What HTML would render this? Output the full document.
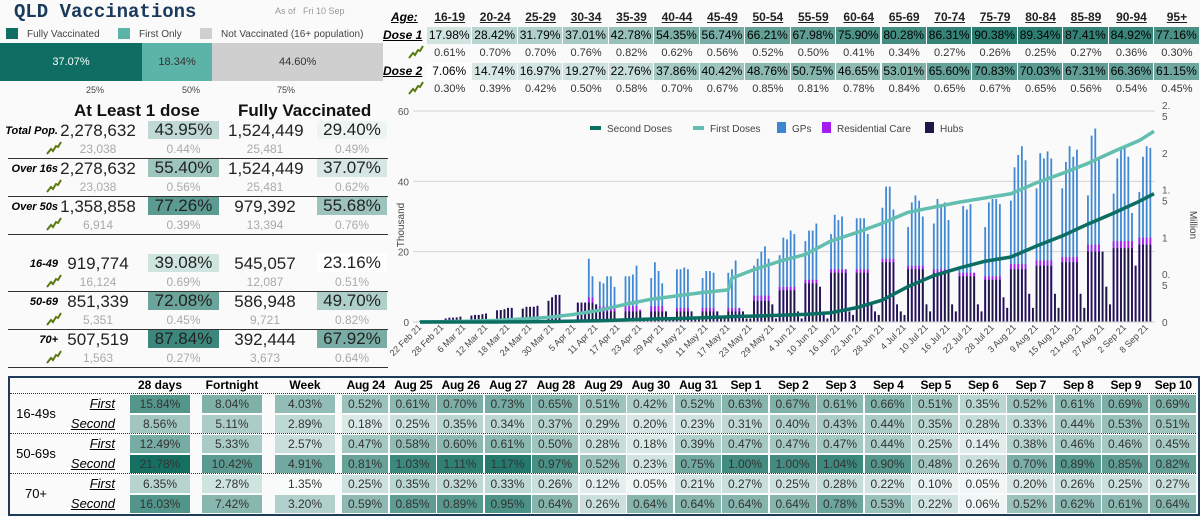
<!DOCTYPE html>
<html><head><meta charset="utf-8"><style>
body{margin:0;width:1200px;height:515px;background:#fafafa;font-family:"Liberation Sans",sans-serif;overflow:hidden;position:relative}
.a{position:absolute;white-space:nowrap}
.c{position:absolute;text-align:center;white-space:nowrap}
.lbl{font-style:italic;font-weight:bold;text-align:right}
.sub{color:#aaa;font-size:12px}
.big{font-size:17px;color:#222}
.u{text-decoration:underline}
</style></head><body>
<div class="a" style="left:14px;top:1px;font:bold 19px 'Liberation Mono',monospace;color:#1a3a5c">QLD Vaccinations</div>
<div class="a" style="left:275px;top:6px;font-size:9px;color:#999">As of &nbsp; Fri 10 Sep</div>
<div class="a" style="left:6px;top:28px;font-size:10px;color:#444"><span style="display:inline-block;width:12px;height:11px;background:#0f6e63;vertical-align:-2px;margin-right:9px"></span>Fully Vaccinated</div>
<div class="a" style="left:118px;top:28px;font-size:10px;color:#444"><span style="display:inline-block;width:12px;height:11px;background:#5cb3a8;vertical-align:-2px;margin-right:9px"></span>First Only</div>
<div class="a" style="left:200px;top:28px;font-size:10px;color:#444"><span style="display:inline-block;width:12px;height:11px;background:#cfcfcf;vertical-align:-2px;margin-right:9px"></span>Not Vaccinated (16+ population)</div>
<div id="stack" class="a" style="left:0;top:43px;width:383px;height:38px"></div>
<div class="a" style="left:86px;top:85px;font-size:9px;color:#444">25%</div>
<div class="a" style="left:182px;top:85px;font-size:9px;color:#444">50%</div>
<div class="a" style="left:277px;top:85px;font-size:9px;color:#444">75%</div>
<div class="a" style="left:74px;top:101px;font-size:17px;font-weight:bold;color:#111">At Least 1 dose</div>
<div class="a" style="left:238px;top:101px;font-size:17px;font-weight:bold;color:#111">Fully Vaccinated</div>
<div id="left"></div>
<div id="ages"></div>
<svg id="chart" class="a" style="left:390px;top:100px" width="810" height="275"></svg>
<div class="a" style="left:8px;top:376px;width:1188px;height:136px;border:2px solid #1f3b5a"></div>
<div id="bottom"></div>
<script>
const stackVals=[37.07,18.34,44.60];
const stackCols=['#0f6e63','#5cb3a8','#cfcfcf'];
const stackNames=['fully-segment','first-only-segment','not-vaccinated-segment'];
let sx=0;const st=document.getElementById('stack');
stackVals.forEach((v,i)=>{const d=document.createElement('div');d.className='c';


const w=v/100*383;d.style.cssText=`left:${sx}px;top:0;width:${w}px;height:38px;line-height:38px;background:${stackCols[i]};font-size:11px;color:${i==0?'#fff':'#333'}`;d.textContent=v.toFixed(2)+'%';st.appendChild(d);sx+=w;});

function teal(f){f=Math.max(0,Math.min(1,f));const a=[250,253,252],b=[22,112,98];return `rgb(${a.map((x,i)=>Math.round(x+(b[i]-x)*f)).join(',')})`;}
const spark='<svg width="16" height="14" viewBox="0 0 16 14"><path d="M1 13 L5 8 L7 10 L10 5 L12 6 L15 1" stroke="#5a7a10" stroke-width="2" fill="none"/></svg>';

const rowNames=['Total Pop.','Over 16s','Over 50s','16-49','50-69','70+'];
const rowY=[121,159,197,254,292,330];
const dose1=['2,278,632','2,278,632','1,358,858','919,774','851,339','507,519'];
const dose1Pct=[43.95,55.40,77.26,39.08,72.08,87.84];
const full=['1,524,449','1,524,449','979,392','545,057','586,948','392,444'];
const fullPct=[29.40,37.07,55.68,23.16,49.70,67.92];
const d1Inc=['23,038','23,038','6,914','16,124','5,351','1,563'];
const d1IncPct=['0.44%','0.56%','0.39%','0.69%','0.45%','0.27%'];
const fInc=['25,481','25,481','13,394','12,087','9,721','3,673'];
const fIncPct=['0.49%','0.62%','0.76%','0.51%','0.82%','0.64%'];
let h='';
rowNames.forEach((n,i)=>{const y=rowY[i];
h+=`<div class="a lbl" style="left:0;width:58px;top:${y+4}px;font-size:11px">${n}</div>`;
h+=`<div class="c big" style="left:60px;width:76px;top:${y}px">${dose1[i]}</div>`;
h+=`<div class="c big" style="left:148px;width:71px;top:${y}px;height:18px;line-height:18px;background:${teal((dose1Pct[i]-25)/75)}">${dose1Pct[i].toFixed(2)}%</div>`;
h+=`<div class="c big" style="left:228px;width:74px;top:${y}px">${full[i]}</div>`;
h+=`<div class="c big" style="left:317px;width:70px;top:${y}px;height:18px;line-height:18px;background:${fullPct[i]<25?'#fff':teal((fullPct[i]-25)/75)}">${fullPct[i].toFixed(2)}%</div>`;
h+=`<div class="a" style="left:46px;top:${y+20}px">${spark}</div>`;
h+=`<div class="c sub" style="left:60px;width:76px;top:${y+21}px">${d1Inc[i]}</div>`;
h+=`<div class="c sub" style="left:148px;width:71px;top:${y+21}px">${d1IncPct[i]}</div>`;
h+=`<div class="c sub" style="left:228px;width:74px;top:${y+21}px">${fInc[i]}</div>`;
h+=`<div class="c sub" style="left:317px;width:70px;top:${y+21}px">${fIncPct[i]}</div>`;
h+=`<div class="a" style="left:8px;width:380px;top:${y+37}px;border-top:1.5px solid #333"></div>`;
});
document.getElementById('left').innerHTML=h;

const ageLabels=['16-19','20-24','25-29','30-34','35-39','40-44','45-49','50-54','55-59','60-64','65-69','70-74','75-79','80-84','85-89','90-94','95+'];
const ageDose1=[17.98,28.42,31.79,37.01,42.78,54.35,56.74,66.21,67.98,75.90,80.28,86.31,90.38,89.34,87.41,84.92,77.16];
const ageDose1Inc=[0.61,0.70,0.70,0.76,0.82,0.62,0.56,0.52,0.50,0.41,0.34,0.27,0.26,0.25,0.27,0.36,0.30];
const ageDose2=[7.06,14.74,16.97,19.27,22.76,37.86,40.42,48.76,50.75,46.65,53.01,65.60,70.83,70.03,67.31,66.36,61.15];
const ageDose2Inc=[0.30,0.39,0.42,0.50,0.58,0.70,0.67,0.85,0.81,0.78,0.84,0.65,0.67,0.65,0.56,0.54,0.45];
h='';
const ax0=427,aw=45.45;
h+=`<div class="a u" style="left:391px;top:10px;font-size:12px;font-style:italic;font-weight:bold">Age:</div>`;
h+=`<div class="a u" style="left:383px;top:28px;font-size:12px;font-style:italic;font-weight:bold">Dose 1</div>`;
h+=`<div class="a" style="left:408px;top:45px">${spark}</div>`;
h+=`<div class="a u" style="left:383px;top:64px;font-size:12px;font-style:italic;font-weight:bold">Dose 2</div>`;
h+=`<div class="a" style="left:408px;top:81px">${spark}</div>`;
ageLabels.forEach((a,i)=>{const x=ax0+i*aw;
h+=`<div class="c u" style="left:${x}px;width:${aw}px;top:10px;font-size:12px;font-weight:bold;color:#222">${a}</div>`;
h+=`<div class="c" style="left:${x}px;width:${aw-1}px;top:27px;height:17px;line-height:17px;font-size:12px;background:${teal(ageDose1[i]/100)}">${ageDose1[i].toFixed(2)}%</div>`;
h+=`<div class="c" style="left:${x}px;width:${aw}px;top:47px;font-size:11px;color:#333">${ageDose1Inc[i].toFixed(2)}%</div>`;
h+=`<div class="c" style="left:${x}px;width:${aw-1}px;top:63px;height:17px;line-height:17px;font-size:12px;background:${ageDose2[i]<10?'#fff':teal(ageDose2[i]/100)}">${ageDose2[i].toFixed(2)}%</div>`;
h+=`<div class="c" style="left:${x}px;width:${aw}px;top:83px;font-size:11px;color:#333">${ageDose2Inc[i].toFixed(2)}%</div>`;
});
document.getElementById('ages').innerHTML=h;

const totalDaily=[
.3,.3,.4,.4,.5,0,0, 1,1.2,1.2,1.3,1.5,0,0, 1.8,2,2,2.2,2.4,0,0, 3.3,3.4,3.6,4,4,0,0,
3.8,4.3,4.3,4.3,4.6,0,0, 6,7,7.7,7.7,0,0,0, 0,5.5,5.5,5.5,18,13,5, 11.5,11,13,13,10,1,1,
13,13,13.5,16,3.5,1,1, 12.5,17,14.5,11,3,1,1, 15,15,15.5,15,3,1,1, 12.5,14.5,14.5,14,3,1,1,
14,15,17.5,4,3,1,1, 16,18,20,21.5,18,5,1, 19,24,23.5,26,25,3,1, 23,26,26,28,10,3,1,
25,30.5,29,30,15,3,2, 29.5,29.5,29.5,25,5,3,2, 32.5,38.5,38.5,32,5,3,2, 27,34,36,34.5,30,5,3,
28,35,33,34,29,5,3, 15,33,32,33.5,14,5,3, 27,34,35,35,33.5,7,4, 34.5,44,47.5,50,46,8,4,
38,48,46.5,48.5,46.5,8,4, 38,45.5,50,47,49,8,4, 36,53,55,47,20,10,5, 36.5,46.5,49,50,47,31,16,
37,47,50,49.5,0];
const hubWeek=[.5,1.5,2.4,4,4.6,7.7,5.5,3,3,3,3,3,3,6,9,11,14,14,17,15,14,13,12,15,16,17,20,21,22];
const resiWeek=[0,0,0,0,0,0,1.5,1.5,1.5,1.5,1,1,1,1.5,1,1,1,1,1,1,1,1,1,1.5,1.5,1.5,2,2,2];
const lineDays=[0,7,14,21,28,35,42,49,56,63,70,77,84,85,91,98,105,112,119,126,133,140,147,154,161,168,175,182,189,196,200];
const firstDoses=[0,.005,.01,.02,.035,.055,.09,.14,.21,.27,.31,.35,.38,.52,.62,.72,.80,.96,1.06,1.17,1.30,1.36,1.42,1.47,1.52,1.65,1.76,1.88,2.02,2.15,2.26];
const secondDoses=[0,0,0,0,.002,.005,.01,.015,.025,.035,.04,.05,.06,.065,.07,.08,.09,.11,.17,.26,.42,.55,.64,.72,.77,.90,1.02,1.16,1.29,1.43,1.52];
const leftTicks=[0,20,40,60];
const rightTicks=['0','0.\n5','1','1.\n5','2','2.\n5'];
const dateLabels=['22 Feb 21','28 Feb 21','6 Mar 21','12 Mar 21','18 Mar 21','24 Mar 21','30 Mar 21','5 Apr 21','11 Apr 21','17 Apr 21','23 Apr 21','29 Apr 21','5 May 21','11 May 21','17 May 21','23 May 21','29 May 21','4 Jun 21','10 Jun 21','16 Jun 21','22 Jun 21','28 Jun 21','4 Jul 21','10 Jul 21','16 Jul 21','22 Jul 21','28 Jul 21','3 Aug 21','9 Aug 21','15 Aug 21','21 Aug 21','27 Aug 21','2 Sep 21','8 Sep 21'];

const svg=document.getElementById('chart');const NS='http://www.w3.org/2000/svg';
const X0=30,DX=3.67,Y0=222,YS=211/60;
const xs=d=>X0+d*DX, yL=v=>Y0-v*YS, yR=m=>Y0-m*211/2.5;
function mk(t,at){const e=document.createElementNS(NS,t);for(const k in at)e.setAttribute(k,at[k]);svg.appendChild(e);return e;}
leftTicks.forEach((t,i)=>{
 if(t>0){const g=mk('line',{x1:23,x2:765,y1:yL(t),y2:yL(t),stroke:'#d4d4d4'});
 
 }
 const tx=mk('text',{x:19,y:yL(t)+4,'text-anchor':'end','font-size':10,fill:'#555'});tx.textContent=t;
 
 
});
rightTicks.forEach((t,i)=>{const parts=t.split('\n');
 const tx=mk('text',{x:772,y:yR(i*0.5)+(parts.length>1?-2:4),'font-size':10,fill:'#555'});
 
 
 parts.forEach((p,j)=>{const ts=document.createElementNS(NS,'tspan');ts.setAttribute('x',772);if(j)ts.setAttribute('dy',11);ts.textContent=p;tx.appendChild(ts);});
});
const yt=mk('text',{transform:'translate(14,125) rotate(-90)','text-anchor':'middle','font-size':10,fill:'#444'});yt.textContent='Thousand';


const yt2=mk('text',{transform:'translate(800,125) rotate(90)','text-anchor':'middle','font-size':10,fill:'#444'});yt2.textContent='Million';


totalDaily.forEach((v,d)=>{if(v<=0)return;const w=Math.floor(d/7);
 const hub=Math.min(v,hubWeek[w]);const res=Math.min(v-hub,resiWeek[w]);const x=xs(d)-0.9;
 const b1=mk('rect',{x:x,width:1.8,y:yL(v),height:v*YS,fill:'#4189d4'});
 
 
 const b2=mk('rect',{x:x,width:1.8,y:yL(hub+res),height:(hub+res)*YS,fill:'#a41cf0'});
 
 
 const b3=mk('rect',{x:x,width:1.8,y:yL(hub),height:hub*YS,fill:'#1e1747'});
 
 
});
mk('line',{x1:23,x2:765,y1:Y0,y2:Y0,stroke:'#ccc'});
[[firstDoses,'#62bfb0','first-doses-line'],[secondDoses,'#0b6e62','second-doses-line']].forEach(([arr,c,n])=>{
 const p=mk('polyline',{points:arr.map((m,i)=>xs(lineDays[i])+','+yR(m)).join(' '),fill:'none',stroke:c,'stroke-width':3.5,'stroke-linejoin':'round'});
 
 
});
dateLabels.forEach((l,i)=>{const x=xs(i*6)+2,y=Y0+6;
 const t=mk('text',{x:x,y:y,'text-anchor':'end','font-size':9,fill:'#444',transform:`rotate(-45 ${x} ${y})`});t.textContent=l;
 
 
});
const legItems=[['Second Doses','#0b6e62',true],['First Doses','#62bfb0',true],['GPs','#3d86d0',false],['Residential Care','#a41cf0',false],['Hubs','#1e1747',false]];
const legX=[200,303,387,432,535];
legItems.forEach(([n,c,line],i)=>{const x=legX[i];
 const m=line?mk('rect',{x:x,y:26,width:11,height:4,fill:c}):mk('rect',{x:x,y:22,width:9,height:11,fill:c});
 
 
 const t=mk('text',{x:x+(line?17:15),y:32,'font-size':10,fill:'#444'});t.textContent=n;
 
 
});

const dayCols=['Aug 24','Aug 25','Aug 26','Aug 27','Aug 28','Aug 29','Aug 30','Aug 31','Sep 1','Sep 2','Sep 3','Sep 4','Sep 5','Sep 6','Sep 7','Sep 8','Sep 9','Sep 10'];
const groups=['16-49s','50-69s','70+'];
const days28=[15.84,8.56,12.49,21.78,6.35,16.03];
const fortnight=[8.04,5.11,5.33,10.42,2.78,7.42];
const week=[4.03,2.89,2.57,4.91,1.35,3.20];
const daily=[
[0.52,0.61,0.70,0.73,0.65,0.51,0.42,0.52,0.63,0.67,0.61,0.66,0.51,0.35,0.52,0.61,0.69,0.69],
[0.18,0.25,0.35,0.34,0.37,0.29,0.20,0.23,0.31,0.40,0.43,0.44,0.35,0.28,0.33,0.44,0.53,0.51],
[0.47,0.58,0.60,0.61,0.50,0.28,0.18,0.39,0.47,0.47,0.47,0.44,0.25,0.14,0.38,0.46,0.46,0.45],
[0.81,1.03,1.11,1.17,0.97,0.52,0.23,0.75,1.00,1.00,1.04,0.90,0.48,0.26,0.70,0.89,0.85,0.82],
[0.25,0.35,0.32,0.33,0.26,0.12,0.05,0.21,0.27,0.25,0.28,0.22,0.10,0.05,0.20,0.26,0.25,0.27],
[0.59,0.85,0.89,0.95,0.64,0.26,0.64,0.64,0.64,0.64,0.78,0.53,0.22,0.06,0.52,0.62,0.61,0.64]];
h='';
const rY=[395,415,435,455,475,495],rH=18;
const hdr=[['28 days',130,60],['Fortnight',202,60],['Week',275,60]];
hdr.forEach(([t,x,w])=>{h+=`<div class="c" style="left:${x}px;width:${w}px;top:378px;font-size:12px;font-weight:bold">${t}</div>`;});
const dx0=342,dw=47.5;
dayCols.forEach((t,i)=>{h+=`<div class="c" style="left:${dx0+i*dw-2}px;width:${dw+4}px;top:378px;font-size:12px;font-weight:bold;letter-spacing:-0.3px">${t}</div>`;});
groups.forEach((g,i)=>{h+=`<div class="c" style="left:12px;width:48px;top:${rY[i*2]+11}px;font-size:13px">${g}</div>`;
 h+=`<div class="a" style="left:10px;width:1186px;top:${rY[i*2]-2}px;border-top:1px dotted #333"></div>`;});
rY.forEach((y,r)=>{
 h+=`<div class="a u" style="left:60px;width:55px;text-align:right;top:${y+1}px;font-size:13px;font-style:italic">${r%2?'Second':'First'}</div>`;
 [[days28,130,21.78],[fortnight,202,10.42],[week,275,4.91]].forEach(([arr,x,mx],k)=>{
  const v=arr[r];const f=k==2?(v-1.3)/6:(v/mx)*(k==0?1:0.7);
  h+=`<div class="c" style="left:${x}px;width:60px;top:${y}px;height:${rH}px;line-height:${rH}px;font-size:12px;color:#333;background:${teal(f)}">${v.toFixed(2)}%</div>`;});
 daily[r].forEach((v,i)=>{
  h+=`<div class="c" style="left:${dx0+i*dw}px;width:${dw-1.5}px;top:${y}px;height:${rH}px;line-height:${rH}px;font-size:12px;color:#333;background:${teal(v/1.25)}">${v.toFixed(2)}%</div>`;});
});
document.getElementById('bottom').innerHTML=h;
</script>
</body></html>
